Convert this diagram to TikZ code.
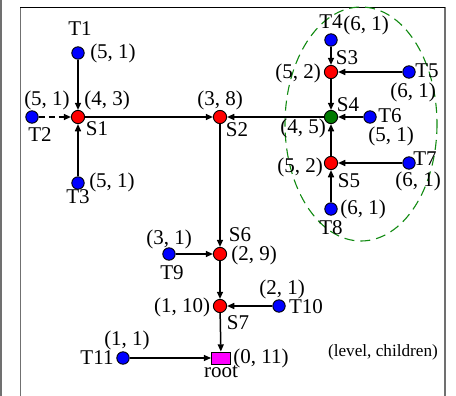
\documentclass[tikz,border=0pt]{standalone}
\usepackage{fontspec}
\setmainfont{Liberation Serif}
\usepackage{tikz}
\usetikzlibrary{arrows.meta, positioning}
\definecolor{swred}{HTML}{FF0000}
\definecolor{sinkgreen}{HTML}{007A00}
\definecolor{termblue}{HTML}{0000FF}
\definecolor{rootpink}{HTML}{FF00FF}
\definecolor{hullgreen}{HTML}{118A11}
\definecolor{pagegray}{HTML}{707070}
\tikzset{
  sw/.style       = {circle, draw=black, line width=0.45pt, fill=swred,
                     minimum size=6.6pt, inner sep=0pt},
  sink/.style     = {sw, fill=sinkgreen},
  term/.style     = {circle, draw=black, line width=0.45pt, fill=termblue,
                     minimum size=6.2pt, inner sep=0pt},
  rootbox/.style  = {rectangle, draw=black, line width=0.45pt, fill=rootpink,
                     minimum width=9.5pt, minimum height=6pt, inner sep=0pt},
  link/.style     = {-{Triangle[length=3.6pt, width=3pt]}, draw=black, line width=0.75pt},
  linkdash/.style = {link, dash pattern=on 3pt off 2pt},
  hull/.style     = {draw=hullgreen, line width=0.55pt, dash pattern=on 5pt off 3pt},
  tag/.style      = {font=\fontsize{10.5}{12}\selectfont, inner sep=0pt},
  legend/.style   = {font=\fontsize{8.6}{10}\selectfont, inner sep=0pt},
}

\begin{document}
\begin{tikzpicture}[x=0.5pt, y=-0.5pt]
  \useasboundingbox (0,0) rectangle (456,396);
  % page frame
  \draw[pagegray, line width=0.8pt] (1,0) -- (1,396);
  \draw[pagegray, line width=0.7pt] (20.5,7) -- (20.5,396);
  \draw[pagegray, line width=0.6pt] (445,7) -- (445,396);
  \draw[black, line width=0.7pt] (20,7.5) -- (445.3,7.5);

  % cluster round S3..S5
  \draw[hull] (361,124) ellipse [x radius=76, y radius=117];

  % switches
  \node[sw] (s1) at (78,117) {};
  \node[sw] (s2) at (220,117) {};
  \node[sw] (s3) at (331,72) {};
  \node[sink] (s4) at (331,117) {};
  \node[sw] (s5) at (331,163) {};
  \node[sw] (s6) at (220,254) {};
  \node[sw] (s7) at (220,306) {};
  \node[rootbox] (root) at (221,358) {};

  % terminals
  \node[term] (t1) at (78,53) {};
  \node[term] (t2) at (32,117) {};
  \node[term] (t3) at (78,183) {};
  \node[term] (t4) at (331,40) {};
  \node[term] (t5) at (409,72) {};
  \node[term] (t6) at (370,117) {};
  \node[term] (t7) at (409,163) {};
  \node[term] (t8) at (331,209) {};
  \node[term] (t9) at (169,254) {};
  \node[term] (t10) at (279,306) {};
  \node[term] (t11) at (123,358) {};

  \draw[link] (t1) -- (s1);
  \draw[linkdash] (t2) -- (s1);
  \draw[link] (t3) -- (s1);
  \draw[link] (s1) -- (s2);
  \draw[link] (t4) -- (s3);
  \draw[link] (t5) -- (s3);
  \draw[link] (s3) -- (s4);
  \draw[link] (t6) -- (s4);
  \draw[link] (s5) -- (s4);
  \draw[link] (t7) -- (s5);
  \draw[link] (t8) -- (s5);
  \draw[link] (s4) -- (s2);
  \draw[link] (s2) -- (s6);
  \draw[link] (t9) -- (s6);
  \draw[link] (s6) -- (s7);
  \draw[link] (t10) -- (s7);
  \draw[link] (s7) -- (root);
  \draw[link] (t11) -- (root);

  % names and (level, children)
  \node[tag] (t1n) at (80,29) {T1};
  \node[tag] (t1v) at (113,53) {(5, 1)};
  \node[tag] (t2v) at (47,100) {(5, 1)};
  \node[tag] (t2n) at (40,135) {T2};
  \node[tag] (t3v) at (112,182) {(5, 1)};
  \node[tag] (t3n) at (78,197) {T3};
  \node[tag] (s1v) at (107,100) {(4, 3)};
  \node[tag] (s1n) at (97,129) {S1};
  \node[tag] (s2v) at (220,100) {(3, 8)};
  \node[tag] (s2n) at (237,130) {S2};
  \node[tag] (t4n) at (331,22) {T4};
  \node[tag] (t4v) at (366,25) {(6, 1)};
  \node[tag] (s3n) at (347,58) {S3};
  \node[tag] (s3v) at (298,73) {(5, 2)};
  \node[tag] (t5n) at (427,71) {T5};
  \node[tag] (t5v) at (413,92) {(6, 1)};
  \node[tag] (s4n) at (348,105) {S4};
  \node[tag] (s4v) at (303,128) {(4, 5)};
  \node[tag] (t6n) at (390,116) {T6};
  \node[tag] (t6v) at (391,136) {(5, 1)};
  \node[tag] (s5v) at (300,167) {(5, 2)};
  \node[tag] (s5n) at (349,181) {S5};
  \node[tag] (t7n) at (425,159) {T7};
  \node[tag] (t7v) at (418,181) {(6, 1)};
  \node[tag] (t8v) at (363,209) {(6, 1)};
  \node[tag] (t8n) at (331,228) {T8};
  \node[tag] (s6n) at (240,235) {S6};
  \node[tag] (s6v) at (254,255) {(2, 9)};
  \node[tag] (t9v) at (169,239) {(3, 1)};
  \node[tag] (t9n) at (172,273) {T9};
  \node[tag] (s7v) at (182,307) {(1, 10)};
  \node[tag] (s7n) at (238,323) {S7};
  \node[tag] (t10v) at (282,289) {(2, 1)};
  \node[tag] (t10n) at (306,307) {T10};
  \node[tag] (rootv) at (261,358) {(0, 11)};
  \node[tag] (rootn) at (221,372) {root};
  \node[tag] (t11v) at (127,340) {(1, 1)};
  \node[tag] (t11n) at (97,358) {T11};

  \node[legend] (key) at (383,352) {(level, children)};
\end{tikzpicture}
\end{document}
